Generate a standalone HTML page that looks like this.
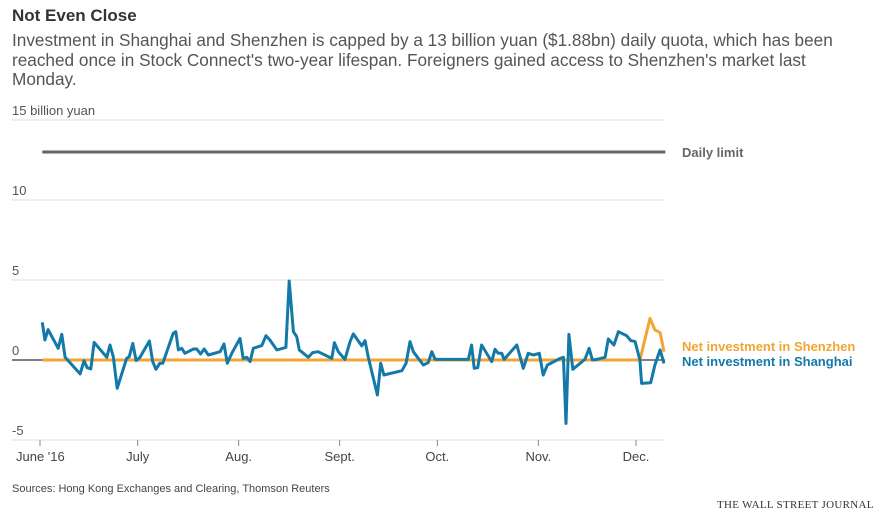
<!DOCTYPE html>
<html><head><meta charset="utf-8"><style>
body{margin:0;background:#fff;font-family:"Liberation Sans",sans-serif;}
#wrap{position:relative;width:883px;height:532px;overflow:hidden;}
.t{position:absolute;white-space:nowrap;}
</style></head><body>
<div id="wrap">
<div class="t" style="left:12px;top:6px;font-size:17px;font-weight:bold;color:#333;">Not Even Close</div>
<div class="t" style="left:12px;top:31px;font-size:17.2px;line-height:19.5px;color:#555;white-space:normal;width:838px;">Investment in Shanghai and Shenzhen is capped by a 13 billion yuan ($1.88bn) daily quota, which has been reached once in Stock Connect's two-year lifespan. Foreigners gained access to Shenzhen's market last Monday.</div>
<svg id="chart" width="883" height="532" style="position:absolute;left:0;top:0"></svg>
<div class="t" style="left:12px;top:483px;font-size:11px;color:#444;">Sources: Hong Kong Exchanges and Clearing, Thomson Reuters</div>
<div class="t" style="left:717px;top:499px;font-size:11px;color:#333;font-family:'Liberation Serif',serif;letter-spacing:0.3px;">THE WALL STREET JOURNAL</div>
</div>
<script>
const yTicks=[15,10,5,0,-5];
const yTickLabels=["15 billion yuan","10","5","0","-5"];
const monthDays=[0,30,61,92,122,153,183];
const monthLabels=["June '16","July","Aug.","Sept.","Oct.","Nov.","Dec."];
const dailyLimit=13;
const shDays=[0.7,1.5,2.5,5.6,6.7,7.7,12.3,13.5,14.5,15.6,16.6,20.5,21.5,22.5,23.7,26.6,27.4,28.5,29.5,30.7,33.6,34.6,35.6,36.8,37.7,40.9,41.7,42.5,43.5,44.5,47.1,48.1,49.3,50.4,51.7,55.3,56.5,57.5,58.9,61.4,62.4,63.5,64.5,65.5,68.1,69.4,70.6,72.7,75.5,76.5,77.8,78.8,79.6,82.4,83.7,85.4,89.6,90.4,91.6,93.6,95.2,96.2,98.8,99.8,100.8,103.6,104.6,105.6,111.1,112.4,113.6,114.6,117.7,119.2,120.3,121.3,131.5,132.5,133.3,134.4,135.6,138.7,139.7,140.7,141.8,142.5,146.4,148.4,149.9,151.5,153.3,154.5,155.8,159.7,160.7,161.5,162.4,163.6,167.3,168.6,169.6,170.9,173.5,174.5,176.2,177.6,180.1,181.4,182.7,184.2,184.7,187.5,188.8,190.4,191.6];
const shValues=[2.35,1.25,1.9,0.73,1.6,0.17,-0.87,-0.05,-0.48,-0.56,1.1,0.17,0.94,0.2,-1.77,0.1,0.2,1.04,-0.04,0.17,1.19,-0.1,-0.58,-0.2,-0.2,1.67,1.77,0.63,0.73,0.42,0.69,0.69,0.375,0.69,0.31,0.52,1.0,-0.2,0.42,1.35,0.1,0.17,-0.1,0.73,0.9,1.52,1.25,0.63,0.79,4.94,1.77,1.46,0.63,0.17,0.46,0.52,0.1,1.08,0.52,0.04,1.15,1.63,0.88,1.21,0.17,-2.19,-0.2,-0.94,-0.67,-0.2,1.15,0.52,-0.31,-0.17,0.52,0.04,0.04,0.94,-0.52,-0.48,0.94,-0.1,0.67,0.42,0.42,0.04,0.94,-0.52,0.42,0.31,0.42,-0.94,-0.31,0.1,0.17,-3.96,1.6,-0.58,0.04,0.73,0,0.04,0.17,1.31,0.94,1.77,1.52,1.21,1.15,0,-1.46,-1.42,-0.31,0.63,-0.21];
const szDays=[0.7,184.2,187.3,188.8,190.4,191.6];
const szValues=[0,0,2.6,1.88,1.71,0.52];

const svg=document.getElementById('chart');
const NS='http://www.w3.org/2000/svg';
const X=d=>40+d*3.257;
const Y=v=>360-v*16;
function mk(tag,attrs){const e=document.createElementNS(NS,tag);for(const k in attrs)e.setAttribute(k,attrs[k]);svg.appendChild(e);return e;}

yTicks.forEach((t,i)=>{
  const g=mk('line',{x1:12,x2:665,y1:Y(t),y2:Y(t),stroke:t===0?'#000':'#ddd','stroke-width':1});
  
  
  const tx=mk('text',{x:12,y:Y(t)-5,'font-size':13,fill:'#555','font-family':'Liberation Sans, sans-serif'});
  tx.textContent=yTickLabels[i];
  
  
});
monthDays.forEach((d,i)=>{
  const l=mk('line',{x1:X(d),x2:X(d),y1:440,y2:446,stroke:'#888','stroke-width':1});
  
  
  const tx=mk('text',{x:X(d),y:461,'font-size':13,fill:'#444','text-anchor':'middle','font-family':'Liberation Sans, sans-serif'});
  tx.textContent=monthLabels[i];
  if(i===0){tx.setAttribute('text-anchor','start');tx.setAttribute('x',X(d)-24);}
  
  
});
const lim=mk('line',{x1:X(0.7),x2:X(192),y1:Y(dailyLimit),y2:Y(dailyLimit),stroke:'#666','stroke-width':3});


const limT=mk('text',{x:682,y:Y(dailyLimit)+5,'font-size':13,'font-weight':'bold',fill:'#666','font-family':'Liberation Sans, sans-serif'});
limT.textContent='Daily limit';



function pts(ds,vs){return ds.map((d,i)=>X(d).toFixed(1)+','+Y(vs[i]).toFixed(1)).join(' ');}
const sz=mk('polyline',{points:pts(szDays,szValues),fill:'none',stroke:'#f2a533','stroke-width':3,'stroke-linejoin':'round'});


const sh=mk('polyline',{points:pts(shDays,shValues),fill:'none',stroke:'#1379a8','stroke-width':3,'stroke-linejoin':'round'});



const l1=mk('text',{x:682,y:351,'font-size':13,'font-weight':'bold',fill:'#f2a533','font-family':'Liberation Sans, sans-serif'});
l1.textContent='Net investment in Shenzhen';


const l2=mk('text',{x:682,y:366,'font-size':13,'font-weight':'bold',fill:'#1379a8','font-family':'Liberation Sans, sans-serif'});
l2.textContent='Net investment in Shanghai';


</script>
</body></html>
